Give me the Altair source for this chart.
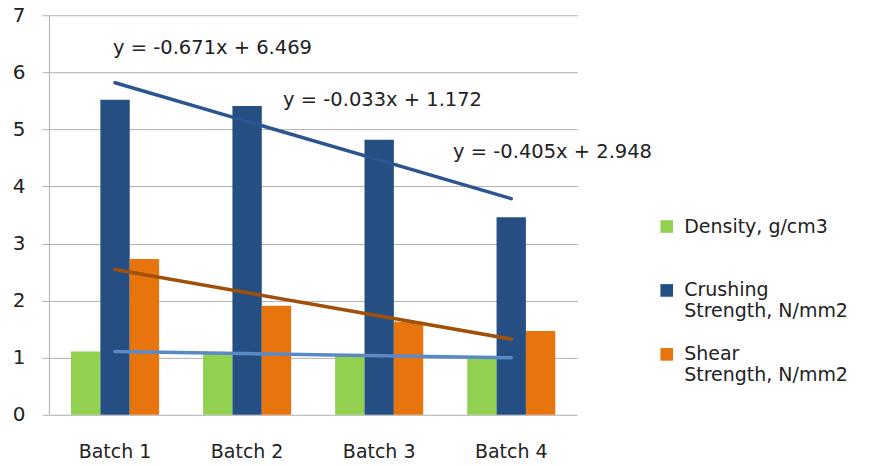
import altair as alt
import pandas as pd

batches = ["Batch 1", "Batch 2", "Batch 3", "Batch 4"]
batch_idx = [1, 2, 3, 4]
density = [1.11, 1.07, 1.04, 1.00]
crushing = [5.52, 5.41, 4.82, 3.46]
shear = [2.73, 1.91, 1.63, 1.47]

series_names = ["Density, g/cm3", "Crushing Strength, N/mm2", "Shear Strength, N/mm2"]
bar_colors = ["#92D050", "#254F82", "#E8740E"]
trend_colors = ["#5A8AC6", "#2A5590", "#A0500A"]

eq_texts = ["y = -0.671x + 6.469", "y = -0.033x + 1.172", "y = -0.405x + 2.948"]
eq_batch = ["Batch 1", "Batch 2", "Batch 3"]
eq_y = [6.43, 5.52, 4.60]
eq_dx = [-2, 36, 74]

rows = []
for i, b in enumerate(batches):
    for s, vals in zip(series_names, [density, crushing, shear]):
        rows.append({"Batch": b, "idx": batch_idx[i], "Series": s, "Value": vals[i]})
df = pd.DataFrame(rows)

font = "DejaVu Sans"
txt = "#222222"

x = alt.X("Batch:N", scale=alt.Scale(domain=batches, paddingInner=0.333, paddingOuter=0.167),
          axis=alt.Axis(title=None, labelAngle=0, domain=False, ticks=False, labelPadding=28,
                        labelFontSize=19, labelFont=font, labelColor=txt))
y = alt.Y("Value:Q", scale=alt.Scale(domain=[0, 7], nice=False),
          axis=alt.Axis(title=None, values=[0, 1, 2, 3, 4, 5, 6, 7], format="d", tickSize=7,
                        tickColor="#B0B0B0", domainColor="#B0B0B0", gridColor="#B0B0B0",
                        labelPadding=17, labelFontSize=20, labelFont=font, labelColor=txt))

bars = alt.Chart(df).mark_bar().encode(
    x=x,
    y=y,
    xOffset=alt.XOffset("Series:N", sort=series_names, scale=alt.Scale(paddingInner=0, paddingOuter=0)),
    color=alt.Color("Series:N", scale=alt.Scale(domain=series_names, range=bar_colors),
                    legend=alt.Legend(title=None, orient="none", legendX=609, legendY=202,
                                      symbolType="square", symbolSize=160, symbolStrokeWidth=0,
                                      labelFontSize=19, labelFont=font, labelColor=txt,
                                      labelOffset=8, rowPadding=23, labelLimit=300,
                                      labelExpr="datum.label == 'Density, g/cm3' ? [datum.label, ''] : split(replace(datum.label, ' Strength', '| Strength'), '| ')")),
)

layers = [bars]
for s, c in zip(series_names, trend_colors):
    line = alt.Chart(df).transform_filter(
        alt.datum.Series == s
    ).transform_regression("idx", "Value", method="linear", extent=[1, 4]).transform_calculate(
        Batch="'Batch ' + datum.idx"
    ).mark_line(color=c, strokeWidth=3.5, strokeCap="round").encode(
        x=alt.X("Batch:N", scale=alt.Scale(domain=batches)),
        y=alt.Y("Value:Q"),
    )
    layers.append(line)

eq_df = pd.DataFrame({"Batch": eq_batch, "y": eq_y, "text": eq_texts})
for i in range(3):
    t = alt.Chart(eq_df.iloc[[i]]).mark_text(align="left", baseline="middle", dx=eq_dx[i],
                                            fontSize=19.5, font=font, color=txt).encode(
        x=alt.X("Batch:N", scale=alt.Scale(domain=batches)),
        y=alt.Y("y:Q"),
        text="text:N",
    )
    layers.append(t)

chart = alt.layer(*layers).properties(
    width=529, height=400,
    autosize=alt.AutoSizeParams(type="none"),
    padding={"left": 41, "top": 7, "right": 290, "bottom": 56},
).configure_view(stroke=None).configure_axis(grid=True).configure_axisX(grid=False)

chart.save("out.html", embed_options={"renderer": "svg", "actions": False})
